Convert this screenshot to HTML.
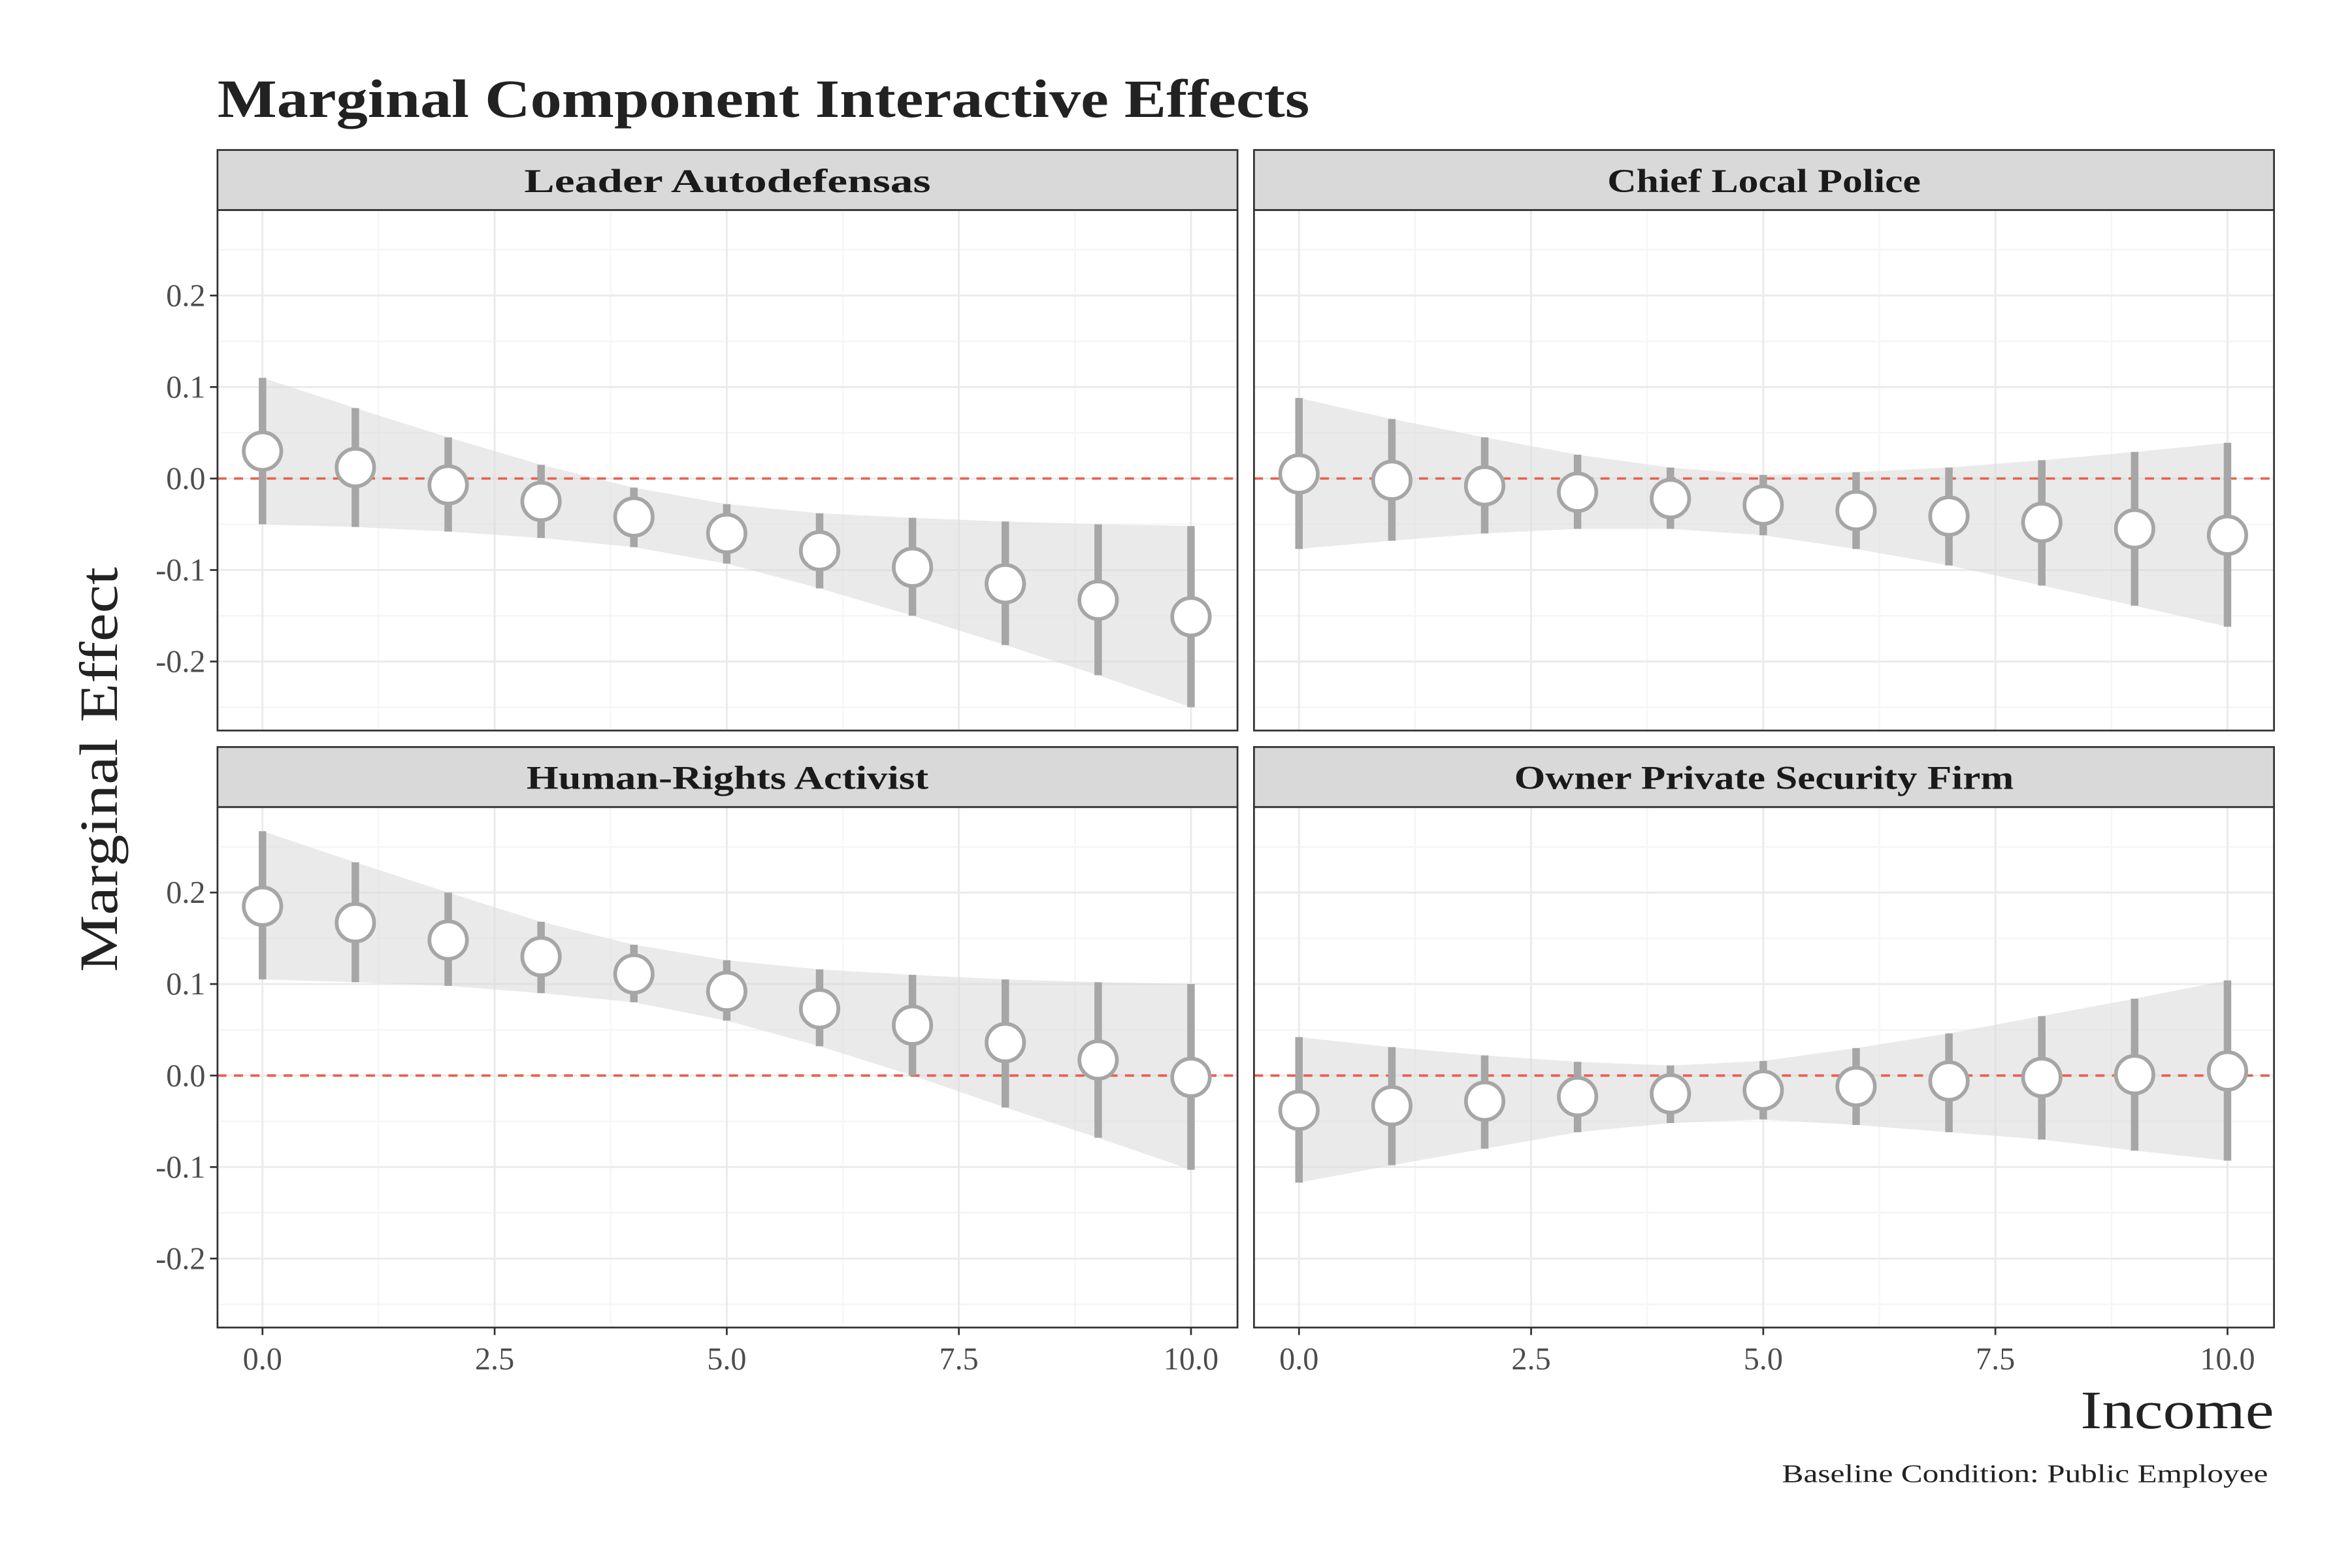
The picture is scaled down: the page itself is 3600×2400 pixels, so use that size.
<!DOCTYPE html>
<html><head><meta charset="utf-8"><style>
html,body{margin:0;padding:0;background:#fff;}
svg{display:block;font-family:"Liberation Serif",serif;}
</style></head><body>
<svg id="chart" width="3600" height="2400" viewBox="0 0 1568 1045.3" preserveAspectRatio="none" xmlns="http://www.w3.org/2000/svg">
<text x="145" y="78" font-size="36" font-weight="bold" fill="#222" textLength="728" lengthAdjust="spacingAndGlyphs">Marginal Component Interactive Effects</text>
<g id="panels"></g>
<text transform="translate(78,513) rotate(-90)" text-anchor="middle" font-size="36" fill="#222" textLength="270" lengthAdjust="spacingAndGlyphs">Marginal Effect</text>
<text x="1516" y="952" text-anchor="end" font-size="36" fill="#222" textLength="129" lengthAdjust="spacingAndGlyphs">Income</text>
<text x="1512" y="988" text-anchor="end" font-size="17" fill="#222" textLength="324" lengthAdjust="spacingAndGlyphs">Baseline Condition: Public Employee</text>
</svg>
<script>
const incomes = [0,1,2,3,4,5,6,7,8,9,10];
const panelTitles = ["Leader Autodefensas","Chief Local Police","Human-Rights Activist","Owner Private Security Firm"];
const estLeader = [0.03,0.012,-0.007,-0.025,-0.042,-0.06,-0.079,-0.097,-0.115,-0.133,-0.151];
const hiLeader = [0.11,0.077,0.045,0.015,-0.01,-0.028,-0.038,-0.043,-0.047,-0.05,-0.052];
const loLeader = [-0.05,-0.053,-0.058,-0.065,-0.075,-0.093,-0.12,-0.15,-0.182,-0.215,-0.25];
const estChief = [0.005,-0.002,-0.008,-0.015,-0.022,-0.029,-0.035,-0.041,-0.048,-0.055,-0.062];
const hiChief = [0.088,0.065,0.045,0.026,0.012,0.004,0.007,0.012,0.02,0.029,0.039];
const loChief = [-0.077,-0.068,-0.06,-0.055,-0.055,-0.062,-0.077,-0.095,-0.117,-0.139,-0.162];
const estHR = [0.185,0.167,0.148,0.13,0.111,0.092,0.073,0.055,0.036,0.017,-0.002];
const hiHR = [0.267,0.233,0.2,0.168,0.143,0.126,0.116,0.11,0.105,0.102,0.1];
const loHR = [0.105,0.102,0.098,0.09,0.08,0.06,0.032,0.0,-0.035,-0.068,-0.103];
const estOwner = [-0.038,-0.033,-0.028,-0.023,-0.02,-0.016,-0.012,-0.006,-0.002,0.001,0.005];
const hiOwner = [0.042,0.031,0.022,0.015,0.011,0.016,0.03,0.046,0.065,0.084,0.104];
const loOwner = [-0.117,-0.098,-0.08,-0.062,-0.052,-0.048,-0.054,-0.062,-0.07,-0.082,-0.093];
const yTicks = [-0.2,-0.1,0,0.1,0.2];
const yTickLabels = ["-0.2","-0.1","0.0","0.1","0.2"];
const xTicks = [0,2.5,5,7.5,10];
const xTickLabels = ["0.0","2.5","5.0","7.5","10.0"];
const stripLens = [271,209,268,333];

const NS="http://www.w3.org/2000/svg";
const root=document.getElementById('panels');
function mk(tag,attrs,parent){const e=document.createElementNS(NS,tag);for(const k in attrs)e.setAttribute(k,attrs[k]);(parent||root).appendChild(e);return e;}
const series=[[estLeader,hiLeader,loLeader],[estChief,hiChief,loChief],[estHR,hiHR,loHR],[estOwner,hiOwner,loOwner]];
const cols=[145,836], rows=[100,498], W=680, stripH=40, plotH=347;
series.forEach((s,i)=>{
  const px=cols[i%2], py=rows[Math.floor(i/2)], top=py+stripH;
  const zeroY=top+179;
  const ys=v=>zeroY-v*610;
  const xs=v=>px+30+v*61.9;
  const g=mk('g',{});
  
  
  mk('rect',{x:px,y:top,width:W,height:plotH,fill:'#fff'},g);
  [-0.25,-0.15,-0.05,0.05,0.15,0.25].forEach(v=>{const y=ys(v);if(y>top&&y<top+plotH)mk('line',{x1:px,x2:px+W,y1:y,y2:y,stroke:'#f5f5f5','stroke-width':1},g);});
  [1.25,3.75,6.25,8.75].forEach(v=>mk('line',{x1:xs(v),x2:xs(v),y1:top,y2:top+plotH,stroke:'#f5f5f5','stroke-width':1},g));
  yTicks.forEach(v=>mk('line',{x1:px,x2:px+W,y1:ys(v),y2:ys(v),stroke:'#ebebeb','stroke-width':1.3},g));
  xTicks.forEach(v=>mk('line',{x1:xs(v),x2:xs(v),y1:top,y2:top+plotH,stroke:'#ebebeb','stroke-width':1.3},g));
  let d='M'+incomes.map((x,j)=>xs(x)+','+ys(s[1][j])).join(' L');
  d+=' L'+incomes.slice().reverse().map((x,k)=>xs(x)+','+ys(s[2][incomes.length-1-k])).join(' L')+' Z';
  const rib=mk('path',{d:d,fill:'#d9d9d9','fill-opacity':0.55},g);
  
  
  mk('line',{x1:px,x2:px+W,y1:ys(0),y2:ys(0),stroke:'#e8604c','stroke-width':1.6,'stroke-dasharray':'6,5'},g);
  incomes.forEach((x,j)=>{
    const eb=mk('line',{x1:xs(x),x2:xs(x),y1:ys(s[1][j]),y2:ys(s[2][j]),stroke:'#a6a6a6','stroke-width':5},g);
    
    
  });
  incomes.forEach((x,j)=>{
    const c=mk('circle',{cx:xs(x),cy:ys(s[0][j]),r:12.5,fill:'#fff',stroke:'#a6a6a6','stroke-width':2.5},g);
    
    
  });
  mk('rect',{x:px,y:top,width:W,height:plotH,fill:'none',stroke:'#333','stroke-width':1.2},g);
  mk('rect',{x:px,y:py,width:W,height:stripH,fill:'#d9d9d9',stroke:'#333','stroke-width':1.2},g);
  const st=mk('text',{x:px+W/2,y:py+28,'text-anchor':'middle','font-size':22,'font-weight':'bold',fill:'#1a1a1a',textLength:stripLens[i],lengthAdjust:'spacingAndGlyphs'},g);
  st.textContent=panelTitles[i];
  
  
  if(i%2===0){
    yTicks.forEach((v,k)=>{
      mk('line',{x1:px-5,x2:px,y1:ys(v),y2:ys(v),stroke:'#333','stroke-width':1.2},g);
      const t=mk('text',{x:px-8,y:ys(v)+7,'text-anchor':'end','font-size':21,fill:'#4d4d4d'},g);
      t.textContent=yTickLabels[k];
      
      
    });
  }
  if(i>=2){
    xTicks.forEach((v,k)=>{
      mk('line',{x1:xs(v),x2:xs(v),y1:top+plotH,y2:top+plotH+5,stroke:'#333','stroke-width':1.2},g);
      const t=mk('text',{x:xs(v),y:top+plotH+28,'text-anchor':'middle','font-size':21,fill:'#4d4d4d'},g);
      t.textContent=xTickLabels[k];
      
      
    });
  }
});
</script>
</body></html>
